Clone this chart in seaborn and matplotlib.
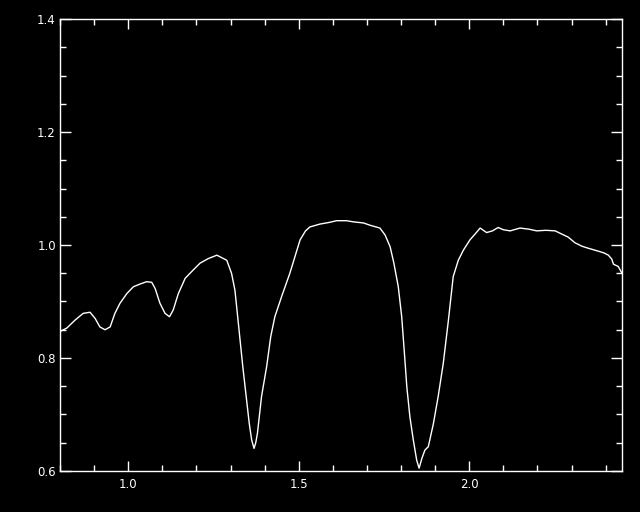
import numpy as np
import pandas as pd
import matplotlib
matplotlib.use('Agg')
import matplotlib.pyplot as plt
import seaborn as sns
from matplotlib.ticker import MultipleLocator

# Spectrum (wavelength, relative flux)
wavelength = [0.800, 0.820, 0.844, 0.868, 0.888, 0.903, 0.917, 0.932, 0.947, 0.961,
              0.976, 0.996, 1.015, 1.035, 1.054, 1.069, 1.079, 1.093, 1.108, 1.121,
              1.132, 1.147, 1.167, 1.191, 1.211, 1.235, 1.260, 1.289, 1.303, 1.313,
              1.320, 1.328, 1.336, 1.345, 1.355, 1.362, 1.369, 1.374, 1.379, 1.391,
              1.406, 1.418, 1.430, 1.450, 1.474, 1.504, 1.520, 1.533, 1.562, 1.590,
              1.611, 1.640, 1.660, 1.690, 1.709, 1.738, 1.753, 1.768, 1.779, 1.792,
              1.802, 1.810, 1.817, 1.826, 1.836, 1.846, 1.853, 1.861, 1.870, 1.880,
              1.895, 1.909, 1.924, 1.939, 1.953, 1.968, 1.983, 2.002, 2.018, 2.032,
              2.051, 2.068, 2.085, 2.100, 2.120, 2.149, 2.175, 2.198, 2.225, 2.252,
              2.276, 2.290, 2.310, 2.330, 2.345, 2.362, 2.379, 2.395, 2.408, 2.418,
              2.423, 2.437, 2.447]
flux = [0.847, 0.853, 0.867, 0.879, 0.881, 0.870, 0.855, 0.850, 0.855, 0.879,
        0.897, 0.914, 0.926, 0.931, 0.935, 0.934, 0.923, 0.897, 0.879, 0.873,
        0.885, 0.914, 0.941, 0.956, 0.968, 0.976, 0.982, 0.973, 0.950, 0.920,
        0.879, 0.832, 0.785, 0.737, 0.684, 0.655, 0.640, 0.650, 0.667, 0.732,
        0.785, 0.838, 0.873, 0.909, 0.950, 1.009, 1.025, 1.032, 1.037, 1.040,
        1.043, 1.043, 1.041, 1.039, 1.035, 1.030, 1.018, 0.997, 0.968, 0.926,
        0.873, 0.808, 0.749, 0.696, 0.655, 0.619, 0.605, 0.622, 0.637, 0.643,
        0.684, 0.732, 0.791, 0.867, 0.944, 0.973, 0.991, 1.009, 1.020, 1.030,
        1.022, 1.025, 1.031, 1.027, 1.025, 1.030, 1.028, 1.025, 1.026, 1.025,
        1.018, 1.014, 1.004, 0.998, 0.995, 0.992, 0.989, 0.986, 0.982, 0.975,
        0.966, 0.962, 0.951]

x_ticks = [1.0, 1.5, 2.0]
y_ticks = [0.6, 0.8, 1.0, 1.2, 1.4]

df = pd.DataFrame({'wavelength': wavelength, 'flux': flux})

sns.set_style('dark', {'axes.facecolor': 'black', 'figure.facecolor': 'black',
                       'axes.edgecolor': 'white', 'axes.grid': False})
plt.rcParams['font.family'] = ['DejaVu Sans']

fig = plt.figure(figsize=(6.4, 5.12), dpi=100)
ax = fig.add_axes([60 / 640, 41 / 512, 562 / 640, 452 / 512])
sns.lineplot(data=df, x='wavelength', y='flux', color='white', linewidth=1.0, ax=ax)

ax.set_xlim(0.8, 2.448)
ax.set_ylim(0.6, 1.4)
ax.set_xticks(x_ticks)
ax.set_yticks(y_ticks)
ax.set_xticklabels([f'{v:.1f}' for v in x_ticks])
ax.set_yticklabels([f'{v:.1f}' for v in y_ticks])
ax.xaxis.set_minor_locator(MultipleLocator(0.1))
ax.yaxis.set_minor_locator(MultipleLocator(0.05))
ax.set_xlabel('')
ax.set_ylabel('')

for s in ax.spines.values():
    s.set_color('white')
    s.set_linewidth(1.0)
    s.set_visible(True)

ax.tick_params(which='both', direction='in', colors='white', top=True, right=True,
               bottom=True, left=True, width=1.0, labelsize=8.5, labelcolor='white')
ax.tick_params(axis='x', which='major', length=7, pad=5)
ax.tick_params(axis='x', which='minor', length=4)
ax.tick_params(axis='y', which='major', length=8, pad=3)
ax.tick_params(axis='y', which='minor', length=4.3)

fig.savefig('out.png', dpi=100, facecolor='black')
